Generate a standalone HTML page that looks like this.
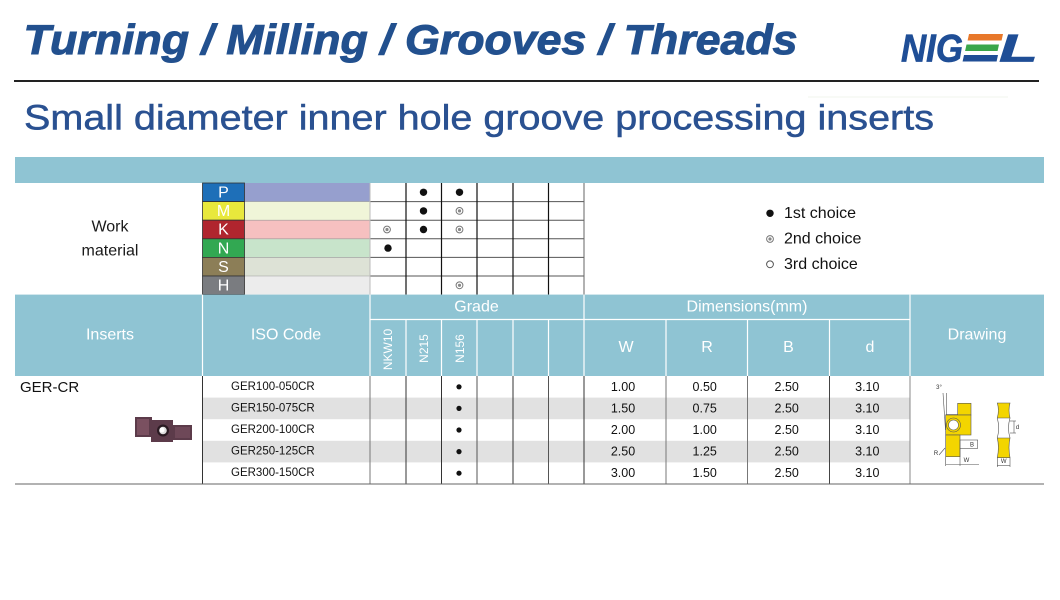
<!DOCTYPE html>
<html><head><meta charset="utf-8"><style>
html,body{margin:0;padding:0;background:#fff;width:1060px;height:600px;overflow:hidden}
svg{display:block}
text{font-family:"Liberation Sans",sans-serif}
</style></head><body>
<svg width="1060" height="600" viewBox="0 0 1060 600" xmlns="http://www.w3.org/2000/svg">
<rect width="1060" height="600" fill="#fff"/>

<!-- Title -->
<text x="23.5" y="54" font-size="42" font-weight="bold" font-style="italic" fill="#22508E" stroke="#22508E" stroke-width="1" textLength="774" lengthAdjust="spacingAndGlyphs">Turning / Milling / Grooves / Threads</text>

<!-- Logo -->
<text x="901" y="61.5" font-size="39" font-weight="bold" font-style="italic" fill="#1F4E96" stroke="#1F4E96" stroke-width="0.7" textLength="62" lengthAdjust="spacingAndGlyphs">NIG</text>
<polygon points="969,34 1003,34 1001.6,40.5 967.6,40.5" fill="#E8782A"/>
<polygon points="966.5,44.5 999,44.5 997.6,51 965.1,51" fill="#3AA64A"/>
<polygon points="964,55 998,55 996.6,61.5 962.6,61.5" fill="#1F4E96"/>
<text x="999" y="61.5" font-size="39" font-weight="bold" font-style="italic" fill="#1F4E96" stroke="#1F4E96" stroke-width="0.7" textLength="39" lengthAdjust="spacingAndGlyphs">L</text>

<!-- separator -->
<rect x="14" y="80" width="1025" height="2" fill="#222"/>
<line x1="808" y1="97" x2="1008" y2="97" stroke="#f2f6ee" stroke-width="1"/>

<!-- Subtitle -->
<text x="24" y="129.5" font-size="35" fill="#2A5191" stroke="#2A5191" stroke-width="0.5" textLength="910" lengthAdjust="spacingAndGlyphs">Small diameter inner hole groove processing inserts</text>

<!-- Top blue bar -->
<rect x="15" y="157" width="1029" height="26" fill="#8FC4D3"/>

<!-- Work material -->
<text x="110" y="227" font-size="16" fill="#1a1a1a" text-anchor="middle" dominant-baseline="central">Work</text>
<text x="110" y="251" font-size="16" fill="#1a1a1a" text-anchor="middle" dominant-baseline="central">material</text>

<!-- material color bars -->
<rect x="244.5" y="183" width="125.5" height="18.6" fill="#969FCE"/>
<rect x="244.5" y="201.6" width="125.5" height="18.6" fill="#F0F5D8"/>
<rect x="244.5" y="220.2" width="125.5" height="18.6" fill="#F6C0C0"/>
<rect x="244.5" y="238.8" width="125.5" height="18.6" fill="#C8E4CB"/>
<rect x="244.5" y="257.4" width="125.5" height="18.6" fill="#DDE2D6"/>
<rect x="244.5" y="276" width="125.5" height="18.6" fill="#ECECEC"/>
<g stroke="#999" stroke-width="0.6">
<line x1="244.5" y1="201.6" x2="370" y2="201.6"/>
<line x1="244.5" y1="220.2" x2="370" y2="220.2"/>
<line x1="244.5" y1="238.8" x2="370" y2="238.8"/>
<line x1="244.5" y1="257.4" x2="370" y2="257.4"/>
<line x1="244.5" y1="276" x2="370" y2="276"/>
</g>

<!-- letter boxes -->
<g stroke="#333" stroke-width="0.8">
<rect x="202.5" y="183" width="42" height="18.6" fill="#1E6FB8"/>
<rect x="202.5" y="201.6" width="42" height="18.6" fill="#E8E83C"/>
<rect x="202.5" y="220.2" width="42" height="18.6" fill="#B0252E"/>
<rect x="202.5" y="238.8" width="42" height="18.6" fill="#32A852"/>
<rect x="202.5" y="257.4" width="42" height="18.6" fill="#8C7E57"/>
<rect x="202.5" y="276" width="42" height="18.6" fill="#7A7C80"/>
</g>
<g font-size="16" fill="#fff" text-anchor="middle" dominant-baseline="central">
<text x="223.5" y="193">P</text>
<text x="223.5" y="211.6">M</text>
<text x="223.5" y="230.2">K</text>
<text x="223.5" y="248.8">N</text>
<text x="223.5" y="267.4">S</text>
<text x="223.5" y="286">H</text>
</g>

<!-- grade grid (material) -->
<g stroke="#555" stroke-width="1">
<line x1="370" y1="201.6" x2="584" y2="201.6"/>
<line x1="370" y1="220.2" x2="584" y2="220.2"/>
<line x1="370" y1="238.8" x2="584" y2="238.8"/>
<line x1="370" y1="257.4" x2="584" y2="257.4"/>
<line x1="370" y1="276" x2="584" y2="276"/>
</g>
<line x1="370" y1="183" x2="370" y2="294.6" stroke="#bbb" stroke-width="1"/>
<g stroke="#111" stroke-width="1.2">
<line x1="406" y1="183" x2="406" y2="294.6"/>
<line x1="441.5" y1="183" x2="441.5" y2="294.6"/>
<line x1="477" y1="183" x2="477" y2="294.6"/>
<line x1="513" y1="183" x2="513" y2="294.6"/>
<line x1="548.5" y1="183" x2="548.5" y2="294.6"/>
</g>
<line x1="584" y1="183" x2="584" y2="294.6" stroke="#666" stroke-width="1"/>

<!-- material dots -->
<g fill="#111">
<circle cx="423.5" cy="192.3" r="3.7"/>
<circle cx="459.5" cy="192.3" r="3.7"/>
<circle cx="423.5" cy="210.9" r="3.7"/>
<circle cx="423.5" cy="229.5" r="3.7"/>
<circle cx="388" cy="248.1" r="3.7"/>
</g>
<g>
<g transform="translate(459.5,210.9)"><circle r="3.4" fill="none" stroke="#777" stroke-width="1"/><circle r="1.6" fill="#888"/></g>
<g transform="translate(387,229.5)"><circle r="3.4" fill="none" stroke="#777" stroke-width="1"/><circle r="1.6" fill="#888"/></g>
<g transform="translate(459.5,229.5)"><circle r="3.4" fill="none" stroke="#777" stroke-width="1"/><circle r="1.6" fill="#888"/></g>
<g transform="translate(459.5,285.3)"><circle r="3.4" fill="none" stroke="#777" stroke-width="1"/><circle r="1.6" fill="#888"/></g>
</g>

<!-- legend -->
<circle cx="770" cy="213.3" r="3.7" fill="#111"/>
<g transform="translate(770,239)"><circle r="3.4" fill="none" stroke="#777" stroke-width="1"/><circle r="1.6" fill="#888"/></g>
<circle cx="770" cy="264.3" r="3.4" fill="none" stroke="#555" stroke-width="1"/>
<g font-size="16" fill="#111" dominant-baseline="central">
<text x="784" y="213.3">1st choice</text>
<text x="784" y="239">2nd choice</text>
<text x="784" y="264.3">3rd choice</text>
</g>

<!-- column header -->
<rect x="15" y="294.6" width="1029" height="81.4" fill="#8FC4D3"/>
<g stroke="#fff" stroke-width="1.2">
<line x1="202.5" y1="294.6" x2="202.5" y2="376"/>
<line x1="370" y1="294.6" x2="370" y2="376"/>
<line x1="584" y1="294.6" x2="584" y2="376"/>
<line x1="910" y1="294.6" x2="910" y2="376"/>
<line x1="370" y1="319.5" x2="910" y2="319.5"/>
<line x1="406" y1="319.5" x2="406" y2="376"/>
<line x1="441.5" y1="319.5" x2="441.5" y2="376"/>
<line x1="477" y1="319.5" x2="477" y2="376"/>
<line x1="513" y1="319.5" x2="513" y2="376"/>
<line x1="548.5" y1="319.5" x2="548.5" y2="376"/>
<line x1="666" y1="319.5" x2="666" y2="376"/>
<line x1="747.5" y1="319.5" x2="747.5" y2="376"/>
<line x1="829.5" y1="319.5" x2="829.5" y2="376"/>
</g>
<g font-size="16" fill="#fff" text-anchor="middle" dominant-baseline="central">
<text x="110" y="335">Inserts</text>
<text x="286" y="335">ISO Code</text>
<text x="476.5" y="307">Grade</text>
<text x="747" y="307">Dimensions(mm)</text>
<text x="626" y="347.5">W</text>
<text x="707" y="347.5">R</text>
<text x="788.5" y="347.5">B</text>
<text x="870" y="347.5">d</text>
<text x="977" y="335">Drawing</text>
</g>
<g font-size="12" fill="#fff" text-anchor="middle" dominant-baseline="central">
<text transform="translate(388,349.5) rotate(-90)">NKW10</text>
<text transform="translate(424,348.5) rotate(-90)">N215</text>
<text transform="translate(460,348.5) rotate(-90)">N156</text>
</g>

<!-- data stripes -->
<rect x="202.5" y="397.6" width="707.5" height="21.6" fill="#E1E1E1"/>
<rect x="202.5" y="440.8" width="707.5" height="21.6" fill="#E1E1E1"/>

<!-- data lines -->
<g stroke-width="1">
<line x1="202.5" y1="376" x2="202.5" y2="484" stroke="#333"/>
<line x1="370" y1="376" x2="370" y2="484" stroke="#777"/>
<line x1="406" y1="376" x2="406" y2="484" stroke="#333"/>
<line x1="441.5" y1="376" x2="441.5" y2="484" stroke="#333"/>
<line x1="477" y1="376" x2="477" y2="484" stroke="#555"/>
<line x1="513" y1="376" x2="513" y2="484" stroke="#333"/>
<line x1="548.5" y1="376" x2="548.5" y2="484" stroke="#555"/>
<line x1="584" y1="376" x2="584" y2="484" stroke="#333"/>
<line x1="666" y1="376" x2="666" y2="484" stroke="#777"/>
<line x1="747.5" y1="376" x2="747.5" y2="484" stroke="#777"/>
<line x1="829.5" y1="376" x2="829.5" y2="484" stroke="#444"/>
<line x1="910" y1="376" x2="910" y2="484" stroke="#888"/>
<line x1="15" y1="484" x2="1044" y2="484" stroke="#666"/>
</g>

<!-- GER-CR -->
<text x="20" y="387.7" font-size="15" fill="#111" dominant-baseline="central">GER-CR</text>

<!-- insert image -->
<g>
<polygon points="135,417 152,417 152,420 173,420 173,425 192,425 192,440 173,440 173,442 151,442 151,437 135,437" fill="#5C3B4A"/>
<rect x="137" y="419" width="12" height="16" fill="#7A5060"/>
<rect x="175" y="427" width="15" height="11" fill="#6E4858"/>
<circle cx="163" cy="430.5" r="6" fill="#2A1A22"/>
<circle cx="163" cy="430.5" r="3.8" fill="#ddd"/>
<circle cx="162" cy="430" r="2.5" fill="#fff"/>
</g>

<!-- ISO codes -->
<g font-size="11.5" fill="#111" dominant-baseline="central">
<text x="231" y="386.8">GER100-050CR</text>
<text x="231" y="408.4">GER150-075CR</text>
<text x="231" y="430">GER200-100CR</text>
<text x="231" y="451.6">GER250-125CR</text>
<text x="231" y="473.2">GER300-150CR</text>
</g>
<g fill="#111">
<circle cx="459" cy="386.8" r="2.6"/>
<circle cx="459" cy="408.4" r="2.6"/>
<circle cx="459" cy="430" r="2.6"/>
<circle cx="459" cy="451.6" r="2.6"/>
<circle cx="459" cy="473.2" r="2.6"/>
</g>

<!-- values -->
<g font-size="12.5" fill="#111" text-anchor="middle" dominant-baseline="central">
<text x="623" y="386.8">1.00</text><text x="704.7" y="386.8">0.50</text><text x="786.7" y="386.8">2.50</text><text x="867.3" y="386.8">3.10</text>
<text x="623" y="408.4">1.50</text><text x="704.7" y="408.4">0.75</text><text x="786.7" y="408.4">2.50</text><text x="867.3" y="408.4">3.10</text>
<text x="623" y="430">2.00</text><text x="704.7" y="430">1.00</text><text x="786.7" y="430">2.50</text><text x="867.3" y="430">3.10</text>
<text x="623" y="451.6">2.50</text><text x="704.7" y="451.6">1.25</text><text x="786.7" y="451.6">2.50</text><text x="867.3" y="451.6">3.10</text>
<text x="623" y="473.2">3.00</text><text x="704.7" y="473.2">1.50</text><text x="786.7" y="473.2">2.50</text><text x="867.3" y="473.2">3.10</text>
</g>

<!-- drawing -->
<g stroke="#555" stroke-width="0.6">
<text x="939" y="389" font-size="6" fill="#333" stroke="none" text-anchor="middle">3°</text>
<line x1="943" y1="393" x2="945.5" y2="430" />
<line x1="946.5" y1="393" x2="946.5" y2="415"/>
<line x1="945.7" y1="414.5" x2="958" y2="414.5"/>
<rect x="957.7" y="403.3" width="13.3" height="11.7" fill="#F3D500"/>
<rect x="945.7" y="415" width="25.3" height="20" fill="#F3D500"/>
<circle cx="953.5" cy="425" r="7" fill="#F3D500"/>
<circle cx="953.5" cy="425" r="5" fill="#fff"/>
<rect x="945.7" y="435" width="14.3" height="21.7" fill="#F3D500"/>
<rect x="960" y="440" width="17.7" height="8.3" fill="none"/>
<text x="972" y="446.5" font-size="6" fill="#333" stroke="none" text-anchor="middle">B</text>
<text x="936" y="455" font-size="6" fill="#333" stroke="none" text-anchor="middle">R</text>
<line x1="939" y1="455" x2="945" y2="448"/>
<line x1="945.7" y1="456.7" x2="945.7" y2="466"/>
<line x1="960" y1="448.3" x2="960" y2="466"/>
<line x1="945.7" y1="464.5" x2="979" y2="464.5"/>
<text x="966.5" y="462" font-size="6" fill="#333" stroke="none" text-anchor="middle">W</text>
<path d="M997.3,403 L1010,403 Q1008,410 1010,418 L997.3,418 Q999.5,410 997.3,403 Z" fill="#F3D500"/>
<path d="M997.3,438 L1010,438 Q1008,447 1010,457.7 L997.3,457.7 Q999.5,447 997.3,438 Z" fill="#F3D500"/>
<path d="M997.3,418 Q1000,428 997.3,438 M1010,418 Q1007,428 1010,438" fill="none"/>
<line x1="1010" y1="421" x2="1016" y2="421"/>
<line x1="1010" y1="433" x2="1016" y2="433"/>
<line x1="1014" y1="421" x2="1014" y2="433"/>
<text x="1017.5" y="429" font-size="6" fill="#333" stroke="none" text-anchor="middle">d</text>
<line x1="997.3" y1="457.7" x2="997.3" y2="467"/>
<line x1="1010" y1="457.7" x2="1010" y2="467"/>
<line x1="997.3" y1="465.5" x2="1010" y2="465.5"/>
<text x="1003.7" y="463" font-size="6" fill="#333" stroke="none" text-anchor="middle">W</text>
</g>
</svg>
</body></html>
